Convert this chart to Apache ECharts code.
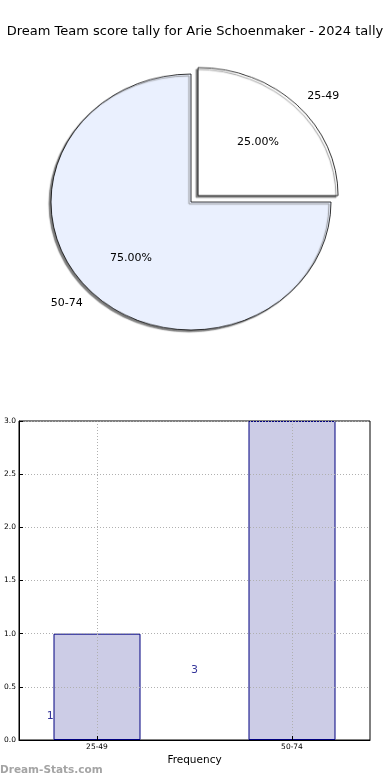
<!DOCTYPE html>
<html><head><meta charset="utf-8">
<script src="https://cdn.jsdelivr.net/npm/echarts@6/dist/echarts.min.js"></script>
<style>
html,body{margin:0;padding:0;background:#fff}
#wrap{position:relative;width:390px;height:780px}
#p{position:absolute;left:0;top:0;width:390px;height:420px;transform:scaleY(0.9143);transform-origin:191px 202px}
#c{position:absolute;left:0;top:0;width:390px;height:780px}
</style>
</head><body><div id="wrap"><div id="p"></div><div id="c"></div></div>
<script>
var titleText = 'Dream Team score tally for Arie Schoenmaker - 2024 tally';
var categories = ['25-49', '50-74'];
var counts = [1, 3];
var sliceColors = ['#ffffff', '#eaf0fe'];
// text annotation positions (data space) from the original figure
var annotX = [-0.24, 0.5];
var annotY = [0.22, 0.66];

var FONT = 'DejaVu Sans';
var cx = 191, cy = 202, R = 140, RL = 134;

// pie shapes (drawn in a vertically squashed layer to get the elliptical pie)
var pie = echarts.init(document.getElementById('p'));
pie.setOption({
  animation: false,
  series: [{
    type: 'pie', center: [cx, cy], radius: R, startAngle: 0, clockwise: false,
    selectedMode: 'single', selectedOffset: 10, silent: true,
    label: { show: false }, labelLine: { show: false },
    emphasis: { disabled: true },
    itemStyle: { borderColor: '#000', borderWidth: 0.8,
      shadowColor: 'rgba(110,110,110,0.9)', shadowBlur: 1, shadowOffsetX: -2, shadowOffsetY: 2 },
    data: categories.map(function (c, i) {
      return { name: c, value: counts[i], selected: i === 0, itemStyle: { color: sliceColors[i] } };
    })
  }]
});

// label nudges (pixels) to follow the elliptical, exploded layout
var pctOffsets = [[8, -1], [-1, -3]];
var nameOffsets = [[26, 0], [-18, -5]];

var chart = echarts.init(document.getElementById('c'));
chart.setOption({
  animation: false,
  title: { text: titleText, left: 'center', top: 20,
    textStyle: { fontFamily: FONT, fontSize: 13, fontWeight: 'normal', color: '#000' } },
  graphic: [{ type: 'text', left: 0, top: 765,
    style: { text: 'Dream-Stats.com', fontFamily: FONT, fontSize: 10.5, fontWeight: 'bold', fill: '#a4a4a4' } }],
  grid: { left: 19, right: 20, top: 421, bottom: 40, show: true, borderColor: '#000', borderWidth: 1, backgroundColor: '#fff' },
  xAxis: {
    type: 'value', min: -0.4, max: 1.4, z: 5,
    name: 'Frequency', nameLocation: 'middle', nameGap: 15,
    nameTextStyle: { fontFamily: FONT, fontSize: 10.5, color: '#000' },
    axisLine: { show: true, onZero: false, lineStyle: { color: '#000' } },
    axisTick: { show: true, inside: true, length: 4, customValues: [0, 1], lineStyle: { color: '#000' } },
    axisLabel: { customValues: [0, 1], margin: 3, fontFamily: FONT, fontSize: 7.5, color: '#000',
      formatter: function (v) { return categories[Math.round(v)]; } },
    splitLine: { show: true, lineStyle: { color: '#b0b0b0', type: [1, 2] } }
  },
  yAxis: {
    type: 'value', min: 0, max: 3, interval: 0.5, z: 5,
    axisLine: { show: true, onZero: false, lineStyle: { color: '#000' } },
    axisTick: { show: true, inside: true, length: 4, lineStyle: { color: '#000' } },
    axisLabel: { margin: 3, fontFamily: FONT, fontSize: 7.5, color: '#000',
      formatter: function (v) { return v.toFixed(1); } },
    splitLine: { show: true, lineStyle: { color: '#b0b0b0', type: [1, 2] } }
  },
  series: [
    {
      type: 'pie', center: [cx, cy], radius: 2 * 0.6 * RL, startAngle: 0, clockwise: false,
      silent: true,
      itemStyle: { color: 'rgba(0,0,0,0)', borderWidth: 0 },
      emphasis: { disabled: true }, labelLine: { show: false },
      label: { show: true, position: 'inside', fontFamily: FONT, fontSize: 11, color: '#000',
        formatter: function (p) { return p.percent.toFixed(2) + '%'; } },
      data: categories.map(function (c, i) {
        return { name: c, value: counts[i], label: { offset: pctOffsets[i] } };
      })
    },
    {
      type: 'pie', center: [cx, cy], radius: 2 * 1.1 * RL, startAngle: 0, clockwise: false,
      silent: true,
      itemStyle: { color: 'rgba(0,0,0,0)', borderWidth: 0 },
      emphasis: { disabled: true }, labelLine: { show: false },
      label: { show: true, position: 'inside', fontFamily: FONT, fontSize: 11, color: '#000',
        formatter: '{b}' },
      data: categories.map(function (c, i) {
        return { name: c, value: counts[i], label: { offset: nameOffsets[i] } };
      })
    },
    {
      type: 'bar', barWidth: 87, silent: true,
      itemStyle: { color: '#cccce6', borderColor: '#000080', borderWidth: 1 },
      data: counts.map(function (v, i) { return [i, v]; })
    },
    {
      type: 'scatter', symbolSize: 0, silent: true, z: 6,
      label: { show: true, position: 'inside', fontFamily: FONT, fontSize: 11, color: '#000080',
        formatter: function (p) { return String(p.value[2]); } },
      data: counts.map(function (v, i) { return [annotX[i], annotY[i], v]; })
    }
  ]
});
</script></body></html>
